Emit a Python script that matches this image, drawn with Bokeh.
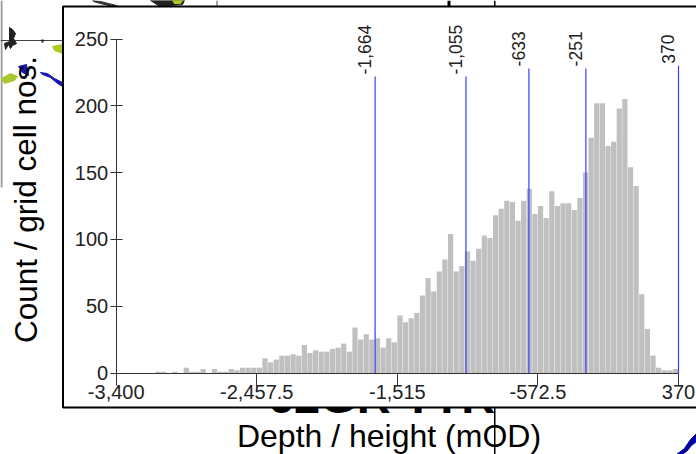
from bokeh.plotting import figure
from bokeh.models import Label, BoxAnnotation, PolyAnnotation, FixedTicker, ColumnDataSource, Range1d
from bokeh.core.properties import value
from bokeh.embed import file_html
from bokeh.resources import INLINE

# --- data ---
x_min = -3400
x_max = 370
counts = [0, 0, 0, 0, 0, 0, 0, 1, 1, 0,
          1, 0, 4, 1, 1, 3, 0, 3, 1, 1,
          3, 2, 4, 4, 4, 4, 11, 8, 10, 13,
          13, 14, 13, 21, 15, 17, 16, 16, 18, 19,
          22, 16, 34, 25, 29, 25, 26, 19, 26, 23,
          43, 38, 41, 45, 58, 71, 61, 76, 85, 104,
          76, 80, 91, 84, 93, 103, 101, 118, 123, 129,
          128, 114, 129, 138, 119, 125, 116, 136, 125, 127,
          127, 122, 131, 150, 176, 202, 202, 170, 173, 198,
          205, 154, 140, 59, 33, 13, 4, 2, 2, 3]
break_values = [-1664, -1055, -633, -251, 370]
break_labels = ["-1,664", "-1,055", "-633", "-251", "370"]
break_tops = [222, 222, 228, 228, 230]
x_ticks = [-3400, -2457.5, -1515, -572.5, 370]
x_tick_labels = ["-3,400", "-2,457.5", "-1,515", "-572.5", "370"]
y_ticks = [0, 50, 100, 150, 200, 250]
x_title = "Depth / height (mOD)"
y_title = "Count / grid cell nos."
behind_title = "62GR TTR"

FONT = "Liberation Sans"
W, H = 696, 454
AXIS_L, AXIS_R, BASE = 115.7, 678.0, 372.5
PX_PER_COUNT = 1.336
PX_PER_X = (AXIS_R - AXIS_L) / (x_max - x_min)

bin_w = (x_max - x_min) / len(counts)
lefts = [x_min + i * bin_w for i in range(len(counts))]
rights = [l + bin_w * 0.93 for l in lefts]
src = ColumnDataSource(dict(left=lefts, right=rights, top=counts, bottom=[0] * len(counts)))

p = figure(width=W, height=H, output_backend="svg", toolbar_location=None,
           x_range=Range1d(x_min - AXIS_L / PX_PER_X, x_max + (W - AXIS_R) / PX_PER_X),
           y_range=Range1d(-(H - BASE) / PX_PER_COUNT, BASE / PX_PER_COUNT),
           min_border_left=0, min_border_right=0, min_border_top=0, min_border_bottom=0)
p.background_fill_color = "white"
p.border_fill_color = "white"
p.outline_line_color = None
p.grid.visible = False


def sy(py):
    return H - py


def screen_box(l, r, t, b, **kw):
    p.add_layout(BoxAnnotation(left=l, right=r, top=sy(t), bottom=sy(b), left_units="screen", right_units="screen",
                               top_units="screen", bottom_units="screen", level="underlay", **kw))


def screen_poly(xs, ys, color):
    p.add_layout(PolyAnnotation(xs=xs, ys=[sy(v) for v in ys], xs_units="screen", ys_units="screen", fill_color=color,
                                fill_alpha=1, line_color=color, line_alpha=1, line_width=1, level="underlay"))


# backdrop: remains of the map behind the chart panel
solid = dict(fill_alpha=1, line_color=None)
screen_box(0, 2, 0, 187, fill_color="#999999", **solid)
screen_box(0, 62, 39.5, 40.5, fill_color="#444444", **solid)
screen_poly([9, 12, 15, 13, 16, 12, 10, 8, 5, 4, 9], [27, 29, 33, 38, 43, 45, 48, 44, 49, 43, 41], "#222222")
screen_poly([52, 62, 62, 54], [46, 44, 53, 50], "#AACC22")
screen_poly([1, 10, 17, 14, 4], [78, 73, 76, 80, 83], "#A8C830")
screen_poly([18, 26, 28, 22], [66, 64, 75, 72], "#1818B8")
screen_poly([40, 47, 54, 62, 62, 57, 50, 42], [72, 73, 78, 82, 86, 83, 77, 74], "#1818B0")
screen_box(41, 43, 39, 42, fill_color="#222222", **solid)
screen_poly([92, 100, 108, 116, 117, 108, 100, 93], [0, 1, 3, 5, 6, 5, 3, 1], "#333333")
screen_poly([150, 158, 166, 176, 184, 182, 170, 158], [0, 0, 0, 0, 0, 4, 5, 5], "#222222")
screen_poly([172, 182, 180, 174], [0, 0, 3, 3], "#AACC22")
screen_box(216, 217, 0, 6, fill_color="#444444", **solid)
screen_box(447, 450, 0, 6, fill_color="black", **solid)
screen_box(493.5, 495, 0, 454, fill_color="black", **solid)
screen_poly([676, 684, 690, 696, 696, 691, 686, 681], [454, 448, 439, 433, 441, 445, 451, 454], "#0000A0")
p.add_layout(Label(x=381, y=sy(396), x_units="screen", y_units="screen", text=behind_title, text_align="center",
                   text_baseline="alphabetic", text_font=FONT, text_font_style="bold", text_font_size="47px",
                   text_color="black", level="underlay"))

# chart panel
screen_box(62.5, 700, 6, 407, fill_color="white", fill_alpha=1, line_color="black", line_alpha=1, line_width=2)

p.quad(left="left", right="right", top="top", bottom="bottom", source=src,
       fill_color="#C0C0C0", line_color=None)
p.segment(x0=break_values, x1=break_values, y0=[0] * 5, y1=break_tops, line_color="#3C3CFF", line_width=1.2)
p.text(x=break_values, y=break_tops, text=break_labels, angle=1.5708, x_offset=-10.5, y_offset=-2,
       text_align="left", text_baseline="middle", text_font=value(FONT), text_font_size="17.5px", text_color="#222222")

xa = p.xaxis[0]
xa.fixed_location = 0
xa.ticker = FixedTicker(ticks=x_ticks)
xa.major_label_overrides = {t: s for t, s in zip(x_ticks, x_tick_labels)}
xa.bounds = (x_min, x_max)
xa.major_tick_out = 12
xa.major_tick_in = 0
xa.minor_tick_line_color = None
xa.major_label_standoff = 0
ya = p.yaxis[0]
ya.fixed_location = x_min
ya.ticker = FixedTicker(ticks=y_ticks)
ya.bounds = (0, 250)
ya.major_tick_out = 6
ya.major_tick_in = 6
ya.minor_tick_line_color = None
ya.major_label_standoff = 2
for a in (xa, ya):
    a.axis_line_color = "#333333"
    a.major_tick_line_color = "#333333"
    a.major_label_text_font = FONT
    a.major_label_text_font_size = "20px"
    a.major_label_text_color = "#222222"

p.add_layout(Label(x=25, y=sy(199), x_units="screen", y_units="screen", text=y_title, angle=1.5708,
                   text_align="center", text_baseline="middle", text_font=FONT, text_font_size="31.5px", text_color="black"))
p.add_layout(Label(x=388.5, y=sy(435.5), x_units="screen", y_units="screen", text=x_title, text_align="center",
                   text_baseline="alphabetic", text_font=FONT, text_font_size="32px", text_color="black"))

open("out.html", "w").write(file_html(p, INLINE))
